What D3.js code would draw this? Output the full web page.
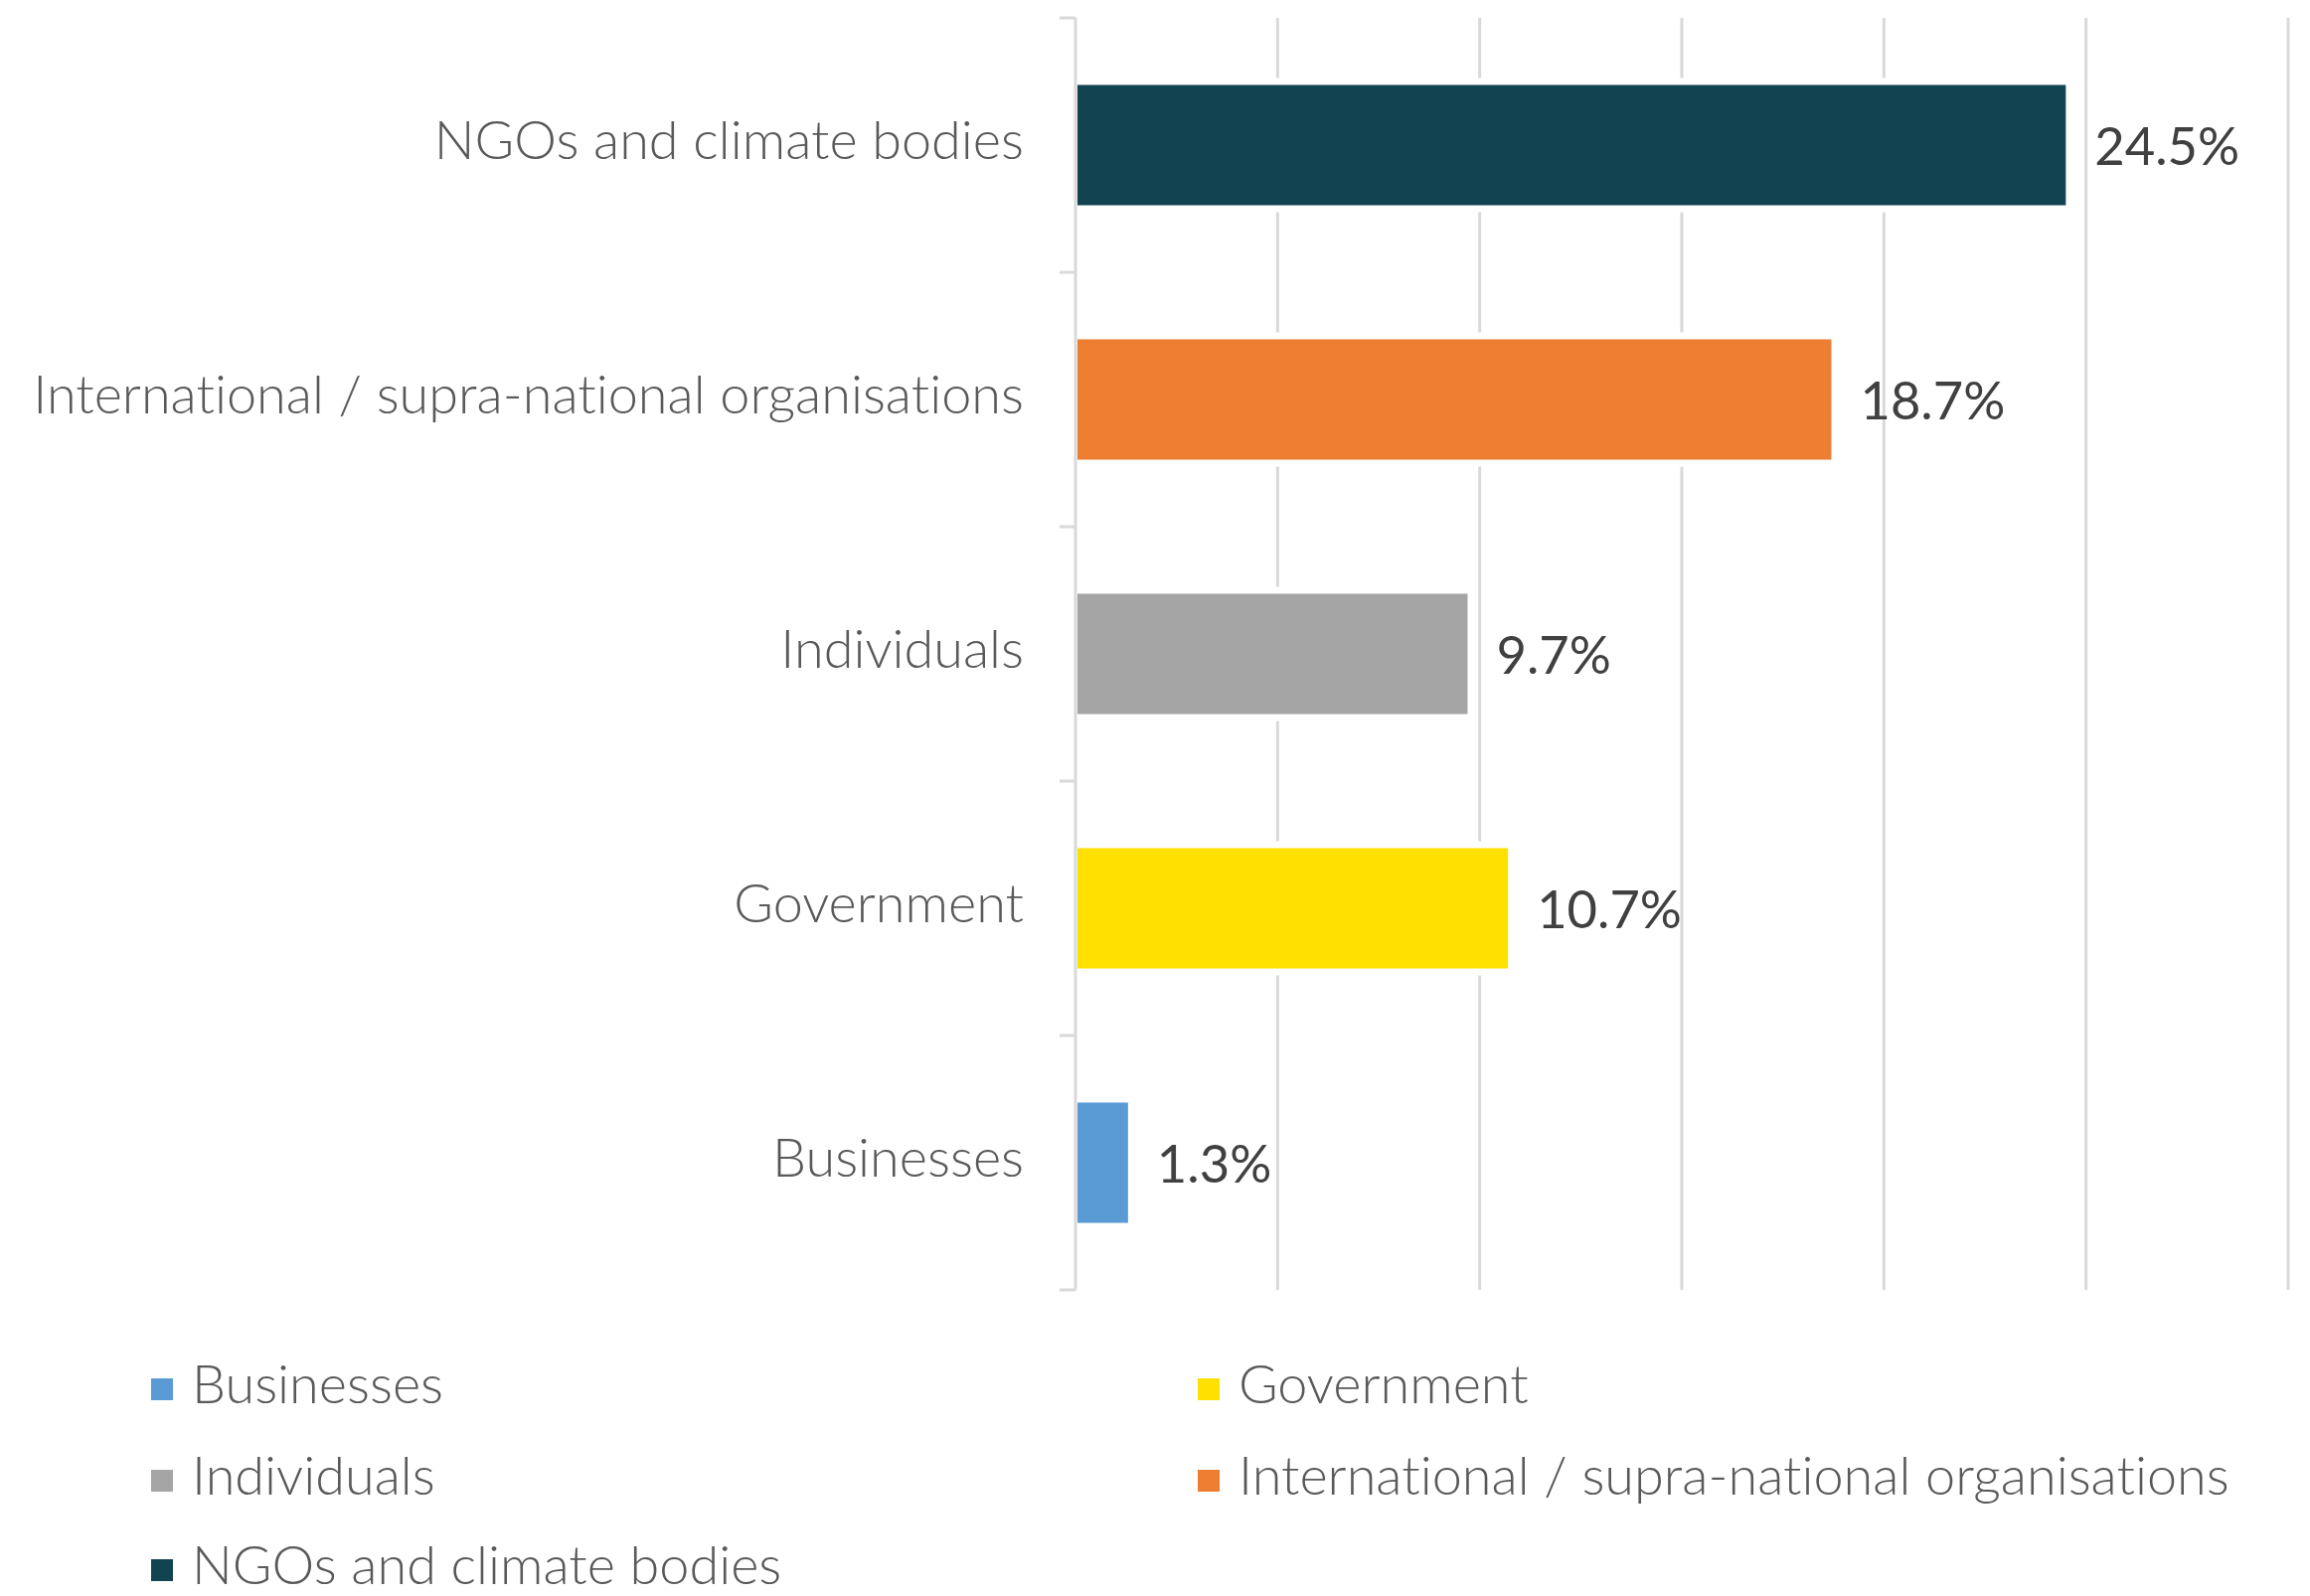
<!DOCTYPE html>
<html>
<head>
<meta charset="utf-8">
<script src="https://cdn.jsdelivr.net/npm/d3@7"></script>
<style>
  html, body { margin: 0; padding: 0; background: #ffffff; }
  svg { display: block; }
  text { font-variant-ligatures: none; font-feature-settings: "liga" 0, "clig" 0; }
</style>
</head>
<body>
<script>
// Share of responses by type of actor
const categories = [
  "NGOs and climate bodies",
  "International / supra-national organisations",
  "Individuals",
  "Government",
  "Businesses"
];
const values = [24.5, 18.7, 9.7, 10.7, 1.3];
const valueLabels = ["24.5%", "18.7%", "9.7%", "10.7%", "1.3%"];
const colors = ["#124350", "#ED7D31", "#A5A5A5", "#FFE000", "#5B9BD5"];
const xTicks = [0, 5, 10, 15, 20, 25, 30];
const legendOrder = [
  "Businesses",
  "Government",
  "Individuals",
  "International / supra-national organisations",
  "NGOs and climate bodies"
];

const W = 2324, H = 1606;
const svg = d3.select("body").append("svg")
  .attr("width", W).attr("height", H);

const x = d3.scaleLinear().domain([0, 30]).range([1082, 2302]);
const y = d3.scaleBand().domain(categories).range([18, 1298])
  .paddingInner(0.527).paddingOuter(0.2635);

const gridColor = "#d9d9d9";
const colorOf = d3.scaleOrdinal().domain(categories).range(colors);
const labelFont = "Lato, 'Open Sans', sans-serif";

// vertical gridlines
svg.append("g").selectAll("line")
  .data(xTicks.filter(d => d > 0))
  .join("line")
  .attr("x1", d => x(d)).attr("x2", d => x(d))
  .attr("y1", 18).attr("y2", 1298)
  .attr("stroke", gridColor).attr("stroke-width", 3);

const data = categories.map((c, i) => ({ c, v: values[i], label: valueLabels[i] }));

// white halo behind bars
svg.append("g").selectAll("rect")
  .data(data)
  .join("rect")
  .attr("x", x(0))
  .attr("y", d => y(d.c) - 7)
  .attr("width", d => x(d.v) - x(0) + 7)
  .attr("height", y.bandwidth() + 14)
  .attr("fill", "#ffffff");

// category axis with outer tick marks at band boundaries
const yAxis = svg.append("g");
yAxis.append("line")
  .attr("x1", x(0)).attr("x2", x(0))
  .attr("y1", 18).attr("y2", 1298)
  .attr("stroke", gridColor).attr("stroke-width", 3);
const bounds = categories.map(c => y(c) - y.step() * y.paddingInner() / 2);
bounds.push(1298);
bounds[0] = 18;
yAxis.selectAll("line.tick")
  .data(bounds)
  .join("line")
  .attr("class", "tick")
  .attr("x1", x(0) - 16).attr("x2", x(0))
  .attr("y1", d => d).attr("y2", d => d)
  .attr("stroke", gridColor).attr("stroke-width", 3);

// bars
svg.append("g").selectAll("rect")
  .data(data)
  .join("rect")
  .attr("x", x(0) + 2)
  .attr("y", d => y(d.c))
  .attr("width", d => x(d.v) - x(0) - 2)
  .attr("height", y.bandwidth())
  .attr("fill", d => colorOf(d.c));

// category labels
svg.append("g").selectAll("text")
  .data(categories)
  .join("text")
  .attr("x", 1030)
  .attr("y", d => y(d) + y.bandwidth() / 2 + 14)
  .attr("text-anchor", "end")
  .attr("font-family", labelFont)
  .attr("font-weight", 300)
  .attr("font-size", 54)
  .attr("fill", "#595959")
  .text(d => d);

// value labels
svg.append("g").selectAll("text")
  .data(data)
  .join("text")
  .attr("x", d => x(d.v) + 29)
  .attr("y", d => y(d.c) + y.bandwidth() / 2 + 20)
  .attr("font-family", labelFont)
  .attr("font-size", 52.5)
  .attr("fill", "#404040")
  .text(d => d.label);

// legend, two columns
const legX = [152, 1205];
const legY = [1412, 1504, 1594];
const leg = svg.append("g").selectAll("g")
  .data(legendOrder)
  .join("g")
  .attr("transform", (d, i) => `translate(${legX[i % 2]},${legY[Math.floor(i / 2)]})`);
leg.append("rect")
  .attr("x", 0).attr("y", -25)
  .attr("width", 22).attr("height", 22)
  .attr("fill", d => colorOf(d));
leg.append("text")
  .attr("x", 41).attr("y", 0)
  .attr("font-family", labelFont)
  .attr("font-weight", 300)
  .attr("font-size", 54)
  .attr("fill", "#595959")
  .text(d => d);
</script>
</body>
</html>
